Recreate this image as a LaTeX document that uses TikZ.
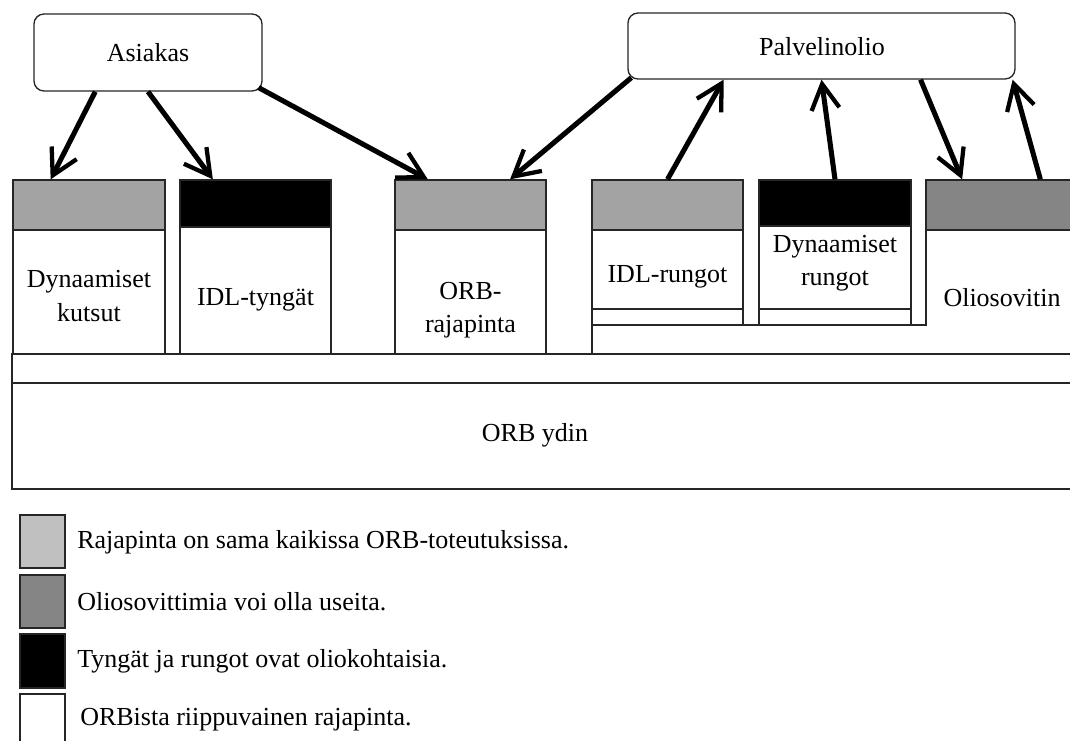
\documentclass[tikz,border=0pt]{standalone}
\usepackage{fontspec}
\setmainfont{Liberation Serif}
\usetikzlibrary{arrows.meta,calc,fit}
\definecolor{lightband}{HTML}{A3A3A3}
\definecolor{lightkey}{HTML}{C0C0C0}
\definecolor{darkband}{HTML}{858585}
\begin{document}
\begin{tikzpicture}[x=0.75pt,y=-0.75pt,
  box/.style={draw=black!85,line width=1pt,inner sep=0pt,fill=white},
  rbox/.style={box,rounded corners=7.5pt},
  band/.style={box,fill=#1},
  lbl/.style={font=\fontsize{19.5}{25}\selectfont,align=center,inner sep=0pt},
  keytext/.style={font=\fontsize{19.5}{25}\selectfont,anchor=west,inner sep=0pt},
  arr/.style={line width=3.8pt,-{Straight Barb[length=19pt,width=21pt,line width=3.2pt]}}]
\useasboundingbox (0,0) rectangle (1070,740);

% ORB core and the thin common layer above it
\node[box,fit={(12,383)(1078,489)}] (core) {};
\node[box,fit={(12,354)(1078,383)}] (layer) {};
\node[lbl] (coretxt) at (535,435) {ORB ydin};

% client side blocks
\node[box,fit={(13,180)(165,354)}] (b1) {};
\node[band=lightband,fit={(13,180)(165,230)}] (b1top) {};
\node[lbl] (t1) at (89,296) {Dynaamiset\\kutsut};

\node[box,fit={(180,180)(331,354)}] (b2) {};
\node[band=black,fit={(180,180)(331,227)}] (b2top) {};
\node[lbl] (t2) at (255.5,300) {IDL-tyngät};

\node[box,fit={(395,180)(546,354)}] (b3) {};
\node[band=lightband,fit={(395,180)(546,230)}] (b3top) {};
\node[lbl] (t3) at (470.5,310) {ORB-\\rajapinta};

% object adapter: L-shaped region under the skeletons
\draw[draw=black!85,line width=1pt,fill=white]
  (926,180) -- (1078,180) -- (1078,354) -- (592,354) -- (592,325) -- (926,325) -- cycle;
\node[band=darkband,fit={(926,180)(1078,230)}] (b6top) {};
\node[lbl] (t6) at (1002,298) {Oliosovitin};

% server side skeletons
\node[box,fit={(592,180)(743,325)}] (b4) {};
\draw[draw=black!85,line width=1pt] (592,309) -- (743,309);
\node[band=lightband,fit={(592,180)(743,230)}] (b4top) {};
\node[lbl] (t4) at (667.5,277) {IDL-rungot};

\node[box,fit={(759,180)(911,325)}] (b5) {};
\draw[draw=black!85,line width=1pt] (759,309) -- (911,309);
\node[band=black,fit={(759,180)(911,226)}] (b5top) {};
\node[lbl] (t5) at (835,263) {Dynaamiset\\rungot};

% client and servant
\node[rbox,fit={(34,14)(262,91)}] (client) {};
\node[lbl] (clienttxt) at (148,53) {Asiakas};
\node[rbox,fit={(628,13)(1015,79)}] (servant) {};
\node[lbl] (servanttxt) at (822,47) {Palvelinolio};

% calls
\draw[arr] ($(client.south west)!0.27!(client.south east)$) -- ($(b1top.north west)!0.25!(b1top.north east)$);
\draw[arr] (client.south) -- ($(b2top.north west)!0.22!(b2top.north east)$);
\draw[arr] ($(client.south east)+(-4,-4)$) -- ($(b3top.north west)!0.22!(b3top.north east)$);
\draw[arr] ($(servant.south west)+(4,-2)$) -- ($(b3top.north west)!0.76!(b3top.north east)$);
\draw[arr] (b4top.north) -- ($(servant.south west)!0.248!(servant.south east)$);
\draw[arr] (b5top.north) -- (servant.south);
\draw[arr] ($(servant.south west)!0.755!(servant.south east)$) -- ($(b6top.north west)!0.24!(b6top.north east)$);
\draw[arr] ($(b6top.north west)!0.75!(b6top.north east)$) -- ($(servant.south east)+(-3,0)$);

% key
\node[band=lightkey,fit={(20,515)(65,568)}] (k1) {};
\node[keytext] (k1txt) at (77,542) {Rajapinta on sama kaikissa ORB-toteutuksissa.};
\node[band=darkband,fit={(20,575)(65,628)}] (k2) {};
\node[keytext] (k2txt) at (77,602) {Oliosovittimia voi olla useita.};
\node[band=black,fit={(20,634)(65,688)}] (k3) {};
\node[keytext] (k3txt) at (77,661) {Tyngät ja rungot ovat oliokohtaisia.};
\node[band=white,fit={(20,694)(65,748)}] (k4) {};
\node[keytext] (k4txt) at (80,720) {ORBista riippuvainen rajapinta.};
\end{tikzpicture}
\end{document}
